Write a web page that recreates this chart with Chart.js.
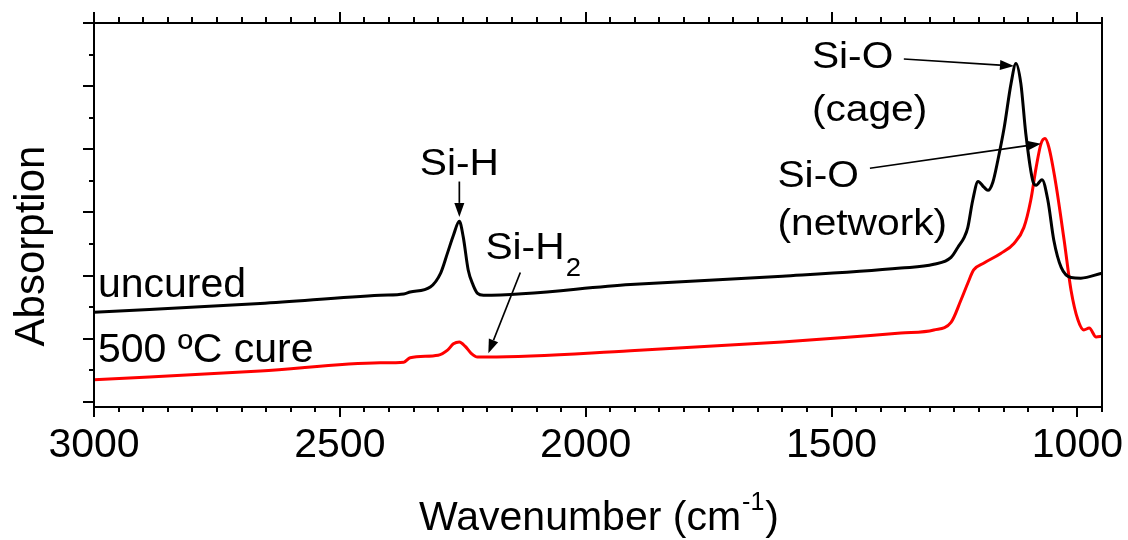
<!DOCTYPE html>
<html>
<head>
<meta charset="utf-8">
<script src="https://cdn.jsdelivr.net/npm/chart.js@4.4.1/dist/chart.umd.min.js"></script>
<style>
  html, body { margin: 0; padding: 0; background: #ffffff; }
  #wrap { width: 1128px; height: 540px; }
</style>
</head>
<body>
<div id="wrap"><canvas id="ftir" width="1128" height="540"></canvas></div>
<script>
// ---------------------------
// Data (wavenumber in cm-1, absorption in arb. units)
// ---------------------------
const uncuredWn = [3000, 2662, 2418, 2370, 2357, 2316, 2295, 2281, 2269, 2257, 2249, 2239, 2229, 2220, 2208,
  1909, 1600, 1359, 1292, 1257, 1243, 1230, 1223, 1213, 1202, 1190, 1182, 1172, 1162, 1149, 1135, 1125,
  1115, 1105, 1090, 1084, 1072, 1060, 1048, 1033, 1013, 993, 950];
const uncuredAbs = [1.42, 1.56, 1.69, 1.71, 1.74, 1.82, 2.04, 2.36, 2.64, 2.86, 2.61, 2.09, 1.85, 1.72, 1.69,
  1.86, 1.99, 2.12, 2.18, 2.29, 2.45, 2.61, 2.76, 3.19, 3.49, 3.40, 3.35, 3.48, 3.82, 4.34, 5.04, 5.36,
  5.04, 4.25, 3.48, 3.43, 3.52, 3.19, 2.56, 2.13, 1.97, 1.96, 2.04];

const curedWn = [3000, 2662, 2418, 2370, 2357, 2300, 2281, 2269, 2257, 2245, 2233, 2220, 2200,
  1909, 1600, 1359, 1292, 1257, 1237, 1223, 1211, 1190, 1156, 1129, 1109, 1095, 1084, 1074, 1066,
  1058, 1044, 1027, 1013, 999, 987, 976, 962, 950];
const curedAbs = [0.35, 0.49, 0.62, 0.63, 0.70, 0.74, 0.82, 0.92, 0.95, 0.88, 0.77, 0.71, 0.71,
  0.81, 0.95, 1.09, 1.14, 1.26, 1.61, 1.88, 2.09, 2.20, 2.35, 2.51, 2.76, 3.19, 3.71, 4.09, 4.17,
  4.03, 3.46, 2.56, 1.77, 1.30, 1.14, 1.17, 1.03, 1.04];

const xTickLabels = [3000, 2500, 2000, 1500, 1000];
const xRange = [950, 3000];
const yRange = [-0.08, 6];

// annotation anchors in data units
const curveLabels = [
  { text: "uncured", wn: 2992, y: 1.66 },
  { text: "500 \u00BAC cure", wn: 2992, y: 0.63 },
];
const peakLabels = [
  { text: "Si-H", wn: 2257, y: 3.59, align: "center" },
  { text: "Si-H", sub: "2", wn: 2204, y: 2.27, align: "left" },
  { text: "Si-O", wn: 1540, y: 5.28, align: "left" },
  { text: "(cage)", wn: 1540, y: 4.45, align: "left" },
  { text: "Si-O", wn: 1610, y: 3.40, align: "left" },
  { text: "(network)", wn: 1610, y: 2.64, align: "left" },
];
const arrows = [
  { from: [2257, 3.49], to: [2257, 2.93] },
  { from: [2133, 2.05], to: [2198, 0.77] },
  { from: [1353, 5.43], to: [1129, 5.32] },
  { from: [1422, 3.70], to: [1074, 4.09] },
];

const FONT = '"Liberation Sans", Arial, sans-serif';

function toPoints(xs, ys) {
  return xs.map((x, i) => ({ x: x, y: ys[i] }));
}

// ---------------------------
// Axes frame, ticks, labels and annotations
// ---------------------------
const framePlugin = {
  id: "frame",
  afterDraw(chart) {
    const ctx = chart.ctx;
    const xs = chart.scales.x;
    const ys = chart.scales.y;
    const a = chart.chartArea;
    ctx.save();
    ctx.strokeStyle = "#000";
    ctx.fillStyle = "#000";
    ctx.lineWidth = 2;
    ctx.strokeRect(a.left, a.top, a.right - a.left, a.bottom - a.top);

    // x ticks, bottom and top
    ctx.beginPath();
    for (let v = 3000; v >= xRange[0]; v -= 50) {
      const px = Math.round(xs.getPixelForValue(v));
      const major = v % 500 === 0;
      ctx.moveTo(px, a.bottom);
      ctx.lineTo(px, a.bottom + (major ? 10 : 5));
      ctx.moveTo(px, a.top);
      ctx.lineTo(px, a.top - (major ? 11 : 6));
    }
    // y ticks, left
    for (let v = 0; v <= yRange[1]; v += 0.5) {
      const py = Math.round(ys.getPixelForValue(v));
      const major = v % 1 === 0;
      ctx.moveTo(a.left, py);
      ctx.lineTo(a.left - (major ? 11 : 5), py);
    }
    ctx.stroke();

    // x tick labels
    ctx.font = "41px " + FONT;
    ctx.textAlign = "center";
    ctx.textBaseline = "alphabetic";
    xTickLabels.forEach(v => {
      ctx.fillText(String(v), xs.getPixelForValue(v), a.bottom + 50);
    });

    // x title with superscript
    const t1 = "Wavenumber (cm";
    const sup = "-1";
    const t2 = ")";
    ctx.font = "41px " + FONT;
    const w1 = ctx.measureText(t1).width;
    const w3 = ctx.measureText(t2).width;
    ctx.font = "25px " + FONT;
    const w2 = ctx.measureText(sup).width;
    const cx = (a.left + a.right) / 2;
    let x0 = cx - (w1 + w2 + w3) / 2;
    const base = 530;
    ctx.textAlign = "left";
    ctx.font = "41px " + FONT;
    ctx.fillText(t1, x0, base);
    ctx.font = "25px " + FONT;
    ctx.fillText(sup, x0 + w1 + 1, base - 20);
    ctx.font = "41px " + FONT;
    ctx.fillText(t2, x0 + w1 + w2 + 2, base);

    // y title
    ctx.save();
    ctx.translate(44, 246);
    ctx.rotate(-Math.PI / 2);
    ctx.font = "42px " + FONT;
    ctx.textAlign = "center";
    ctx.fillText("Absorption", 0, 0);
    ctx.restore();

    // curve names
    ctx.font = "41px " + FONT;
    ctx.textAlign = "left";
    curveLabels.forEach(l => {
      ctx.fillText(l.text, xs.getPixelForValue(l.wn), ys.getPixelForValue(l.y));
    });

    // peak labels (slightly wide lettering)
    peakLabels.forEach(l => {
      const px = xs.getPixelForValue(l.wn);
      const py = ys.getPixelForValue(l.y);
      ctx.save();
      ctx.translate(px, py);
      ctx.scale(1.1, 1);
      ctx.font = "37px " + FONT;
      ctx.textAlign = l.align;
      ctx.fillText(l.text, 0, 0);
      if (l.sub) {
        const w = ctx.measureText(l.text).width;
        ctx.font = "25px " + FONT;
        ctx.textAlign = "left";
        ctx.fillText(l.sub, w + 1, 17);
      }
      ctx.restore();
    });

    // arrows
    ctx.lineWidth = 1.7;
    arrows.forEach(ar => {
      const x1 = xs.getPixelForValue(ar.from[0]), y1 = ys.getPixelForValue(ar.from[1]);
      const x2 = xs.getPixelForValue(ar.to[0]), y2 = ys.getPixelForValue(ar.to[1]);
      const ang = Math.atan2(y2 - y1, x2 - x1);
      const hl = 14, hw = 5;
      const bx = x2 - hl * Math.cos(ang), by = y2 - hl * Math.sin(ang);
      ctx.beginPath();
      ctx.moveTo(x1, y1);
      ctx.lineTo(bx, by);
      ctx.stroke();
      ctx.beginPath();
      ctx.moveTo(x2, y2);
      ctx.lineTo(bx + hw * Math.sin(ang), by - hw * Math.cos(ang));
      ctx.lineTo(bx - hw * Math.sin(ang), by + hw * Math.cos(ang));
      ctx.closePath();
      ctx.fill();
    });
    ctx.restore();
  }
};

function buildChart() {
  const el = document.getElementById("ftir");
  new Chart(el.getContext("2d"), {
    type: "line",
    data: {
      datasets: [
        {
          label: "uncured",
          data: toPoints(uncuredWn, uncuredAbs),
          borderColor: "#000000",
          borderWidth: 3,
          pointRadius: 0,
          cubicInterpolationMode: "monotone",
        },
        {
          label: "500 \u00BAC cure",
          data: toPoints(curedWn, curedAbs),
          borderColor: "#ff0000",
          borderWidth: 3,
          pointRadius: 0,
          cubicInterpolationMode: "monotone",
        },
      ],
    },
    options: {
      responsive: false,
      animation: false,
      devicePixelRatio: 1,
      layout: { padding: { left: 94, right: 26, top: 23, bottom: 133 } },
      plugins: { legend: { display: false }, tooltip: { enabled: false } },
      scales: {
        x: { type: "linear", reverse: true, min: xRange[0], max: xRange[1], display: false },
        y: { type: "linear", min: yRange[0], max: yRange[1], display: false },
      },
    },
    plugins: [framePlugin],
  });
}

buildChart();
</script>
</body>
</html>
